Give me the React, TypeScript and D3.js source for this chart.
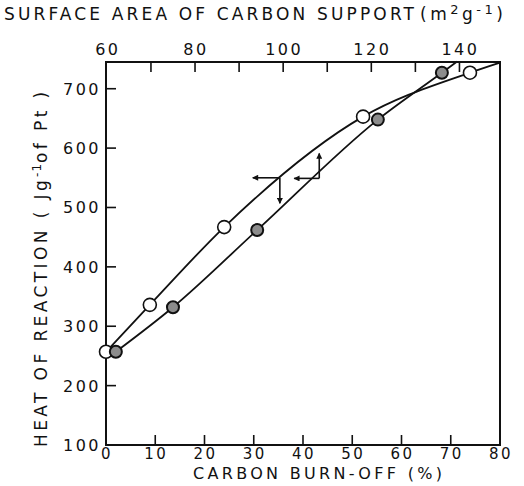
import { useEffect, useRef } from "react";
import * as d3 from "d3";

// bottom axis: carbon burn-off (%)
const burnOffTicks = [0, 10, 20, 30, 40, 50, 60, 70, 80];
// top axis: surface area of carbon support (m2 g-1)
const areaLabels = [60, 80, 100, 120, 140];
const areaTicks = [70, 80, 90, 100, 110, 120, 130, 140];
// left axis: heat of reaction (J g-1 of Pt)
const heatTicks = [100, 200, 300, 400, 500, 600, 700];

// open circles (upper curve)
const openBurnOff = [0, 8.9, 24.0, 52.2, 73.9];
const openHeat = [257, 336, 467, 653, 727];
// shaded circles (lower curve)
const filledBurnOff = [2.0, 13.6, 30.7, 55.2, 68.2];
const filledHeat = [257, 332, 462, 648, 727];
// where each curve runs out of the frame
const openCurveEnd = { x: 80, y: 744 };
const filledCurveEnd = { x: 71.3, y: 746 };

// arrows telling which axis each curve is read against
const arrows = [
  { x: 35.3, y: 550, toX: 29.8, toY: 507 },
  { x: 43.3, y: 549, toX: 38.2, toY: 591 },
];

const W = 524, H = 486;
const FONT = "DejaVu Sans, sans-serif";

export default function App() {
  const ref = useRef<SVGSVGElement>(null);
  useEffect(() => {
    document.body.style.margin = "0";
    if (!ref.current) return;
    const svg = d3.select(ref.current);
    svg.selectAll("*").remove();

    const m = { l: 106, r: 500, t: 62, b: 445 };
    const x = d3.scaleLinear([0, 80], [m.l, m.r]);
    const xTop = d3.scaleLinear([59.8, 149.2], [m.l, m.r]);
    const y = d3.scaleLinear([100, 745], [m.b, m.t]);

    const defs = svg.append("defs");
    defs.append("marker").attr("id", "head").attr("viewBox", "0 0 10 10")
      .attr("refX", 9).attr("refY", 5).attr("markerWidth", 9).attr("markerHeight", 6)
      .attr("markerUnits", "userSpaceOnUse").attr("orient", "auto")
      .append("path").attr("d", "M0,0L10,5L0,10Z").attr("fill", "#111");

    // frame
    svg.append("rect").attr("x", m.l).attr("y", m.t)
      .attr("width", m.r - m.l).attr("height", m.b - m.t)
      .attr("fill", "none").attr("stroke", "#111").attr("stroke-width", 2);

    const tickLen = 10;
    burnOffTicks.filter((d) => d > 0 && d < 80).forEach((d) => {
      svg.append("line").attr("x1", x(d)).attr("x2", x(d))
        .attr("y1", m.b).attr("y2", m.b - tickLen)
        .attr("stroke", "#111").attr("stroke-width", 1.6);
    });
    areaTicks.forEach((d) => {
      svg.append("line").attr("x1", xTop(d)).attr("x2", xTop(d))
        .attr("y1", m.t).attr("y2", m.t + tickLen)
        .attr("stroke", "#111").attr("stroke-width", 1.6);
    });
    heatTicks.filter((d) => d > 100).forEach((d) => {
      svg.append("line").attr("x1", m.l).attr("x2", m.l + tickLen)
        .attr("y1", y(d)).attr("y2", y(d))
        .attr("stroke", "#111").attr("stroke-width", 1.6);
    });

    const label = (g: any) => g.attr("font-family", FONT).attr("font-size", 16)
      .attr("letter-spacing", 2.5).attr("fill", "#111");

    burnOffTicks.forEach((d) => {
      svg.append("text").call(label).attr("x", x(d) + 1).attr("y", 459)
        .attr("font-size", 15).attr("text-anchor", "middle").text(d);
    });
    areaLabels.forEach((d) => {
      svg.append("text").call(label).attr("x", xTop(d) + 1).attr("y", 55)
        .attr("text-anchor", "middle").text(d);
    });
    heatTicks.forEach((d) => {
      svg.append("text").call(label).attr("x", 101).attr("y", y(d) + 6)
        .attr("text-anchor", "end").text(d);
    });

    // titles
    svg.append("text").call(label).attr("x", 4).attr("y", 20)
      .attr("font-size", 17).attr("letter-spacing", 0)
      .attr("textLength", 410).attr("lengthAdjust", "spacing")
      .text("SURFACE  AREA  OF  CARBON  SUPPORT");
    const tt = svg.append("text").call(label).attr("x", 420).attr("y", 20)
      .attr("font-size", 17).attr("letter-spacing", 3.5);
    tt.append("tspan").text("(m");
    tt.append("tspan").attr("dy", -6).attr("font-size", 13).text("2");
    tt.append("tspan").attr("dy", 6).text("g");
    tt.append("tspan").attr("dy", -6).attr("font-size", 13).text("-1");
    tt.append("tspan").attr("dy", 6).text(")");

    svg.append("text").call(label).attr("x", 193).attr("y", 479)
      .attr("font-size", 16).attr("letter-spacing", 0)
      .attr("textLength", 249).attr("lengthAdjust", "spacing")
      .text("CARBON  BURN-OFF (%)");

    const yt = svg.append("text").call(label)
      .attr("transform", "translate(47,447) rotate(-90)")
      .attr("font-size", 17).attr("letter-spacing", 3.4);
    yt.append("tspan").text("HEAT  OF  REACTION  ( Jg");
    yt.append("tspan").attr("dy", -6).attr("font-size", 12).attr("letter-spacing", 1).text("-1");
    yt.append("tspan").attr("dy", 6).text("of  Pt )");

    // curves
    const line = d3.line<{ x: number; y: number }>()
      .x((d) => x(d.x)).y((d) => y(d.y)).curve(d3.curveMonotoneX);
    const openPts = openBurnOff.map((v, i) => ({ x: v, y: openHeat[i] }));
    const filledPts = filledBurnOff.map((v, i) => ({ x: v, y: filledHeat[i] }));
    [[...openPts, openCurveEnd], [...filledPts, filledCurveEnd]].forEach((pts) => {
      svg.append("path").attr("d", line(pts)!).attr("fill", "none")
        .attr("stroke", "#111").attr("stroke-width", 1.8);
    });

    // arrows
    arrows.forEach((a) => {
      svg.append("line").attr("x1", x(a.x)).attr("y1", y(a.y))
        .attr("x2", x(a.toX)).attr("y2", y(a.y))
        .attr("stroke", "#111").attr("stroke-width", 1.6).attr("marker-end", "url(#head)");
      svg.append("line").attr("x1", x(a.x)).attr("y1", y(a.y))
        .attr("x2", x(a.x)).attr("y2", y(a.toY))
        .attr("stroke", "#111").attr("stroke-width", 1.6).attr("marker-end", "url(#head)");
    });

    // markers
    openPts.forEach((p) => {
      svg.append("circle").attr("cx", x(p.x)).attr("cy", y(p.y)).attr("r", 6.5)
        .attr("fill", "#fff").attr("stroke", "#111").attr("stroke-width", 1.6);
    });
    filledPts.forEach((p) => {
      svg.append("circle").attr("cx", x(p.x)).attr("cy", y(p.y)).attr("r", 6)
        .attr("fill", "#8c8c8c").attr("stroke", "#111").attr("stroke-width", 2);
    });
  }, []);
  return <svg ref={ref} width={W} height={H} style={{ display: "block", background: "#fff" }} />;
}
